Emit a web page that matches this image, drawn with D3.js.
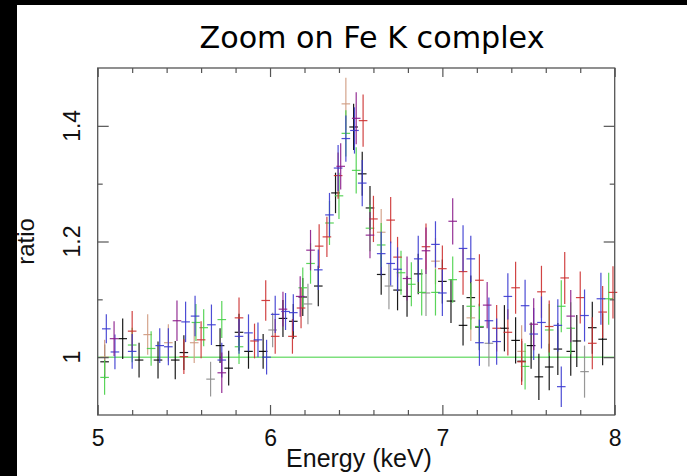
<!DOCTYPE html>
<html><head><meta charset="utf-8">
<script src="https://cdn.jsdelivr.net/npm/d3@7"></script>
<style>html,body{margin:0;padding:0;background:#fff;}svg{display:block;}</style>
</head><body>
<script>
// ---- data: [energy keV, ratio, 1-sigma error] ----
const seriesBlack = [[5.04,0.992,0.030],[5.145,1.032,0.035],[5.24,0.995,0.030],[5.35,0.995,0.032],[5.45,0.995,0.033],[5.50,1.008,0.030],[5.71,1.020,0.030],[5.76,0.981,0.030],[5.82,1.043,0.032],[5.875,1.010,0.030],[5.96,1.010,0.030],[6.075,1.067,0.032],[6.135,1.062,0.030],[6.19,1.104,0.033],[6.28,1.123,0.035],[6.38,1.284,0.035],[6.485,1.398,0.040],[6.535,1.317,0.038],[6.58,1.258,0.038],[6.645,1.143,0.035],[6.74,1.116,0.035],[6.795,1.105,0.035],[6.86,1.144,0.035],[7.00,1.131,0.038],[7.05,1.097,0.038],[7.12,1.055,0.035],[7.165,1.103,0.038],[7.215,1.052,0.040],[7.36,1.050,0.040],[7.425,1.029,0.040],[7.46,0.993,0.035],[7.515,1.020,0.040],[7.56,0.966,0.040],[7.62,0.983,0.040],[7.67,1.014,0.045],[7.745,1.010,0.042],[7.78,1.028,0.045],[7.87,1.051,0.045],[7.93,1.031,0.045]];
const seriesRed = [[5.20,1.045,0.035],[5.50,1.001,0.030],[5.60,1.030,0.032],[5.82,1.068,0.035],[5.91,1.028,0.030],[5.975,1.098,0.035],[6.03,1.036,0.030],[6.13,1.036,0.030],[6.18,1.085,0.035],[6.285,1.192,0.038],[6.33,1.208,0.035],[6.395,1.314,0.040],[6.54,1.409,0.045],[6.60,1.239,0.040],[6.70,1.237,0.040],[6.74,1.173,0.035],[6.905,1.191,0.040],[7.00,1.153,0.040],[7.12,1.148,0.040],[7.215,1.133,0.045],[7.315,1.050,0.040],[7.38,1.043,0.040],[7.425,1.120,0.045],[7.46,0.992,0.040],[7.575,1.113,0.045],[7.62,1.053,0.045],[7.71,1.137,0.045],[7.80,1.103,0.045],[7.87,1.024,0.045],[7.93,1.078,0.045],[7.99,1.112,0.045]];
const seriesGreen = [[5.04,0.965,0.030],[5.20,1.021,0.030],[5.31,1.015,0.030],[5.57,1.060,0.032],[5.615,1.051,0.032],[5.72,1.065,0.032],[5.82,1.018,0.030],[6.19,1.120,0.035],[6.235,1.162,0.035],[6.345,1.232,0.038],[6.40,1.279,0.040],[6.44,1.387,0.040],[6.50,1.323,0.040],[6.58,1.223,0.040],[6.645,1.194,0.038],[6.76,1.146,0.038],[6.82,1.126,0.038],[6.88,1.112,0.040],[6.96,1.112,0.040],[7.06,1.134,0.040],[7.165,1.088,0.040],[7.215,1.053,0.040],[7.48,0.984,0.040],[7.62,1.047,0.045],[7.69,1.088,0.045],[7.745,1.050,0.045],[7.965,1.101,0.045]];
const seriesBlue = [[5.05,1.049,0.025],[5.10,1.009,0.030],[5.20,1.010,0.030],[5.36,1.020,0.030],[5.41,1.018,0.032],[5.51,1.061,0.035],[5.565,1.071,0.035],[5.66,1.056,0.035],[5.72,0.995,0.030],[5.82,1.036,0.030],[5.875,1.042,0.032],[5.93,1.030,0.030],[5.98,1.000,0.030],[6.03,1.074,0.032],[6.09,1.079,0.032],[6.135,1.077,0.032],[6.28,1.151,0.035],[6.345,1.246,0.038],[6.395,1.327,0.040],[6.44,1.378,0.040],[6.49,1.392,0.040],[6.535,1.301,0.040],[6.645,1.179,0.038],[6.70,1.162,0.038],[6.74,1.152,0.038],[6.86,1.170,0.040],[6.96,1.195,0.040],[7.00,1.111,0.040],[7.12,1.188,0.040],[7.165,1.170,0.040],[7.215,1.025,0.040],[7.27,1.063,0.040],[7.315,1.027,0.040],[7.38,1.105,0.040],[7.48,1.089,0.045],[7.53,1.040,0.045],[7.575,1.060,0.045],[7.67,1.055,0.045],[7.69,0.949,0.035],[7.825,1.072,0.045],[7.92,1.101,0.045]];
const seriesPurple = [[5.095,1.032,0.030],[5.46,1.063,0.035],[5.72,0.973,0.035],[6.075,1.083,0.030],[6.175,1.105,0.035],[6.235,1.185,0.035],[6.41,1.330,0.040],[6.50,1.413,0.045],[6.58,1.211,0.040],[6.795,1.136,0.038],[6.905,1.184,0.040],[7.06,1.235,0.040],[7.26,1.090,0.040],[7.53,1.057,0.045],[7.745,1.071,0.045]];
const seriesTan = [[5.04,1.000,0.030],[5.29,1.039,0.035],[5.41,1.025,0.032],[5.56,1.025,0.035],[6.44,1.438,0.045],[6.645,1.216,0.040],[6.96,1.166,0.040],[7.165,1.068,0.040],[7.46,1.010,0.045]];
const seriesGray = [[5.655,0.962,0.030],[6.015,1.047,0.030],[6.22,1.092,0.035],[6.69,1.123,0.040],[6.905,1.111,0.040],[7.27,1.024,0.040],[7.825,0.975,0.045]];

const allSeries = [seriesBlack, seriesGray, seriesTan, seriesGreen, seriesRed, seriesBlue, seriesPurple];
const seriesColors = ["#000000", "#8c8c8c", "#cf9a80", "#48d048", "#cc3030", "#3a3ad0", "#8a1a8a"];
const binHalfWidth = 0.025;
const modelLevel = 1.0;

const xMajorTicks = [5, 6, 7, 8];
const xMinorTicks = [5.2,5.4,5.6,5.8,6.2,6.4,6.6,6.8,7.2,7.4,7.6,7.8];
const yMajorTicks = [1, 1.2, 1.4];
const yMinorTicks = [1.1, 1.3];
const yTickLabels = ["1", "1.2", "1.4"];

const titleText = "Zoom on Fe K complex";
const xLabel = "Energy (keV)";
const yLabel = "ratio";

// ---- drawing ----
const W = 687, H = 476;
const svg = d3.select("body").append("svg").attr("width", W).attr("height", H);
svg.append("rect").attr("width", W).attr("height", H).attr("fill", "#fff");

const x = d3.scaleLinear().domain([5, 8]).range([97.7, 614.7]);
const y = d3.scaleLinear().domain([0.9, 1.5]).range([415, 68]);

const frameColor = "#555";
const g = svg.append("g");

// model line
g.append("line").attr("x1", x(5)).attr("x2", x(8)).attr("y1", y(modelLevel)).attr("y2", y(modelLevel))
  .attr("stroke", "#7ee07e").attr("stroke-width", 1.5);

// data crosses
allSeries.forEach((s, i) => {
  const gs = g.append("g").attr("stroke", seriesColors[i]).attr("stroke-width", 1.2).attr("stroke-opacity", 0.9);
  gs.selectAll("line.h").data(s).join("line").attr("class", "h")
    .attr("x1", d => x(d[0] - binHalfWidth)).attr("x2", d => x(d[0] + binHalfWidth))
    .attr("y1", d => y(d[1])).attr("y2", d => y(d[1]));
  gs.selectAll("line.v").data(s).join("line").attr("class", "v")
    .attr("x1", d => x(d[0])).attr("x2", d => x(d[0]))
    .attr("y1", d => y(d[1] - d[2])).attr("y2", d => y(d[1] + d[2]));
});

// frame
g.append("rect").attr("x", x(5)).attr("y", y(1.5)).attr("width", x(8) - x(5)).attr("height", y(0.9) - y(1.5))
  .attr("fill", "none").attr("stroke", frameColor).attr("stroke-width", 1.3);

// axes with inward ticks
const bottomMaj = d3.axisBottom(x).tickValues(xMajorTicks).tickSizeInner(-10).tickSizeOuter(0).tickFormat(d3.format("d")).tickPadding(15);
const bottomMin = d3.axisBottom(x).tickValues(xMinorTicks).tickSizeInner(-5).tickSizeOuter(0).tickFormat("");
const topMaj = d3.axisTop(x).tickValues(xMajorTicks).tickSizeInner(-9).tickSizeOuter(0).tickFormat("");
const topMin = d3.axisTop(x).tickValues(xMinorTicks).tickSizeInner(-5).tickSizeOuter(0).tickFormat("");
const leftMaj = d3.axisLeft(y).tickValues(yMajorTicks).tickSizeInner(-11).tickSizeOuter(0).tickFormat("");
const leftMin = d3.axisLeft(y).tickValues(yMinorTicks).tickSizeInner(-5).tickSizeOuter(0).tickFormat("");
const rightMaj = d3.axisRight(y).tickValues(yMajorTicks).tickSizeInner(-11).tickSizeOuter(0).tickFormat("");
const rightMin = d3.axisRight(y).tickValues(yMinorTicks).tickSizeInner(-5).tickSizeOuter(0).tickFormat("");

function styleAxis(sel) {
  sel.select(".domain").remove();
  sel.selectAll(".tick line").attr("stroke", frameColor).attr("stroke-width", 1.2);
}
const gb = svg.append("g").attr("transform", `translate(0,${y(0.9)})`).call(bottomMaj).call(styleAxis);
gb.selectAll(".tick text").attr("font-family", "'Liberation Sans', Arial, sans-serif").attr("font-size", 23).attr("fill", "#111");
svg.append("g").attr("transform", `translate(0,${y(0.9)})`).call(bottomMin).call(styleAxis);
svg.append("g").attr("transform", `translate(0,${y(1.5)})`).call(topMaj).call(styleAxis);
svg.append("g").attr("transform", `translate(0,${y(1.5)})`).call(topMin).call(styleAxis);
svg.append("g").attr("transform", `translate(${x(5)},0)`).call(leftMaj).call(styleAxis);
svg.append("g").attr("transform", `translate(${x(5)},0)`).call(leftMin).call(styleAxis);
svg.append("g").attr("transform", `translate(${x(8)},0)`).call(rightMaj).call(styleAxis);
svg.append("g").attr("transform", `translate(${x(8)},0)`).call(rightMin).call(styleAxis);

// y tick labels rotated
svg.append("g").selectAll("text").data(yMajorTicks).join("text")
  .attr("transform", d => `translate(80,${y(d)}) rotate(-90)`)
  .attr("text-anchor", "middle")
  .attr("font-family", "'Liberation Sans', Arial, sans-serif").attr("font-size", 23).attr("fill", "#111")
  .text((d, i) => yTickLabels[i]);

// axis titles
svg.append("text").attr("x", 359).attr("y", 467).attr("text-anchor", "middle")
  .attr("font-family", "'Liberation Sans', Arial, sans-serif").attr("font-size", 25).attr("fill", "#111").text(xLabel);
svg.append("text").attr("transform", `translate(34,${y(1.2)}) rotate(-90)`).attr("text-anchor", "middle")
  .attr("font-family", "'Liberation Sans', Arial, sans-serif").attr("font-size", 24).attr("fill", "#111").text(yLabel);

// title
svg.append("text").attr("x", 372).attr("y", 48).attr("text-anchor", "middle")
  .attr("font-family", "'Comic Sans MS', 'DejaVu Sans', sans-serif").attr("font-size", 31).attr("fill", "#000")
  .attr("textLength", 345).attr("lengthAdjust", "spacingAndGlyphs").text(titleText);

// black border strips of the original image
svg.append("rect").attr("x", 0).attr("y", 0).attr("width", W).attr("height", 5).attr("fill", "#000");
svg.append("rect").attr("x", 0).attr("y", 0).attr("width", 17).attr("height", H).attr("fill", "#000");
</script>
</body></html>
